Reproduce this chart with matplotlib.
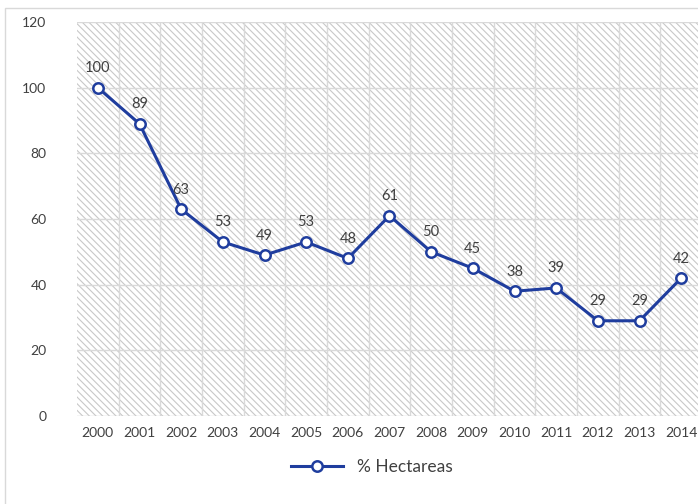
import matplotlib.pyplot as plt
from matplotlib.patches import Rectangle

years = ['2000', '2001', '2002', '2003', '2004', '2005', '2006', '2007',
         '2008', '2009', '2010', '2011', '2012', '2013', '2014']
hectareas = [100, 89, 63, 53, 49, 53, 48, 61, 50, 45, 38, 39, 29, 29, 42]

plt.rcParams['font.family'] = ['Lato', 'DejaVu Sans']
plt.rcParams['hatch.color'] = '#c8c8c8'
plt.rcParams['hatch.linewidth'] = 0.8

fig = plt.figure(figsize=(6.98, 5.04), dpi=100)

# chart border
fig.patches.append(Rectangle((5 / 698, -0.1), 1.2, 1.1 - 8 / 504,
                             transform=fig.transFigure, fill=False,
                             edgecolor='#d9d9d9', linewidth=1.0))

ax = fig.add_axes([77 / 698, 88 / 504, 625 / 698, 394 / 504])
ax.set_xlim(-0.5, len(years) - 0.5)
ax.set_ylim(0, 120)

# hatched plot area
ax.add_patch(Rectangle((0, 0), 1, 1, transform=ax.transAxes, facecolor='white',
                       edgecolor='#c8c8c8', linewidth=0, hatch='\\' * 5, zorder=0))

for y in range(20, 121, 20):
    ax.axhline(y, color='#d9d9d9', linewidth=1, zorder=1)
for i in range(len(years)):
    ax.axvline(i + 0.5, color='#d9d9d9', linewidth=1, zorder=1)
ax.axhline(0, color='#d0d0d0', linewidth=1, zorder=1)

x = range(len(years))
ax.plot(x, hectareas, color='#1f3d9e', linewidth=2.2, marker='o',
        markersize=7.5, markerfacecolor='white', markeredgecolor='#1f3d9e',
        markeredgewidth=1.8, zorder=3, label='% Hectareas')

for i, v in enumerate(hectareas):
    ax.annotate(str(v), (i, v), xytext=(0, 9), textcoords='offset points',
                ha='center', va='bottom', fontsize=10.5, color='#404040')

ax.set_xticks(list(x))
ax.set_xticklabels(years)
ax.set_yticks(range(0, 121, 20))
ax.tick_params(length=0, labelsize=10, labelcolor='#404040', pad=8)
ax.tick_params(axis='y', pad=22)
for s in ax.spines.values():
    s.set_visible(False)

fig.legend(loc='center', bbox_to_anchor=(372 / 698, 1 - 467 / 504), frameon=False,
           fontsize=12.5, labelcolor='#404040', handlelength=3)

fig.savefig('out.png', dpi=100)
